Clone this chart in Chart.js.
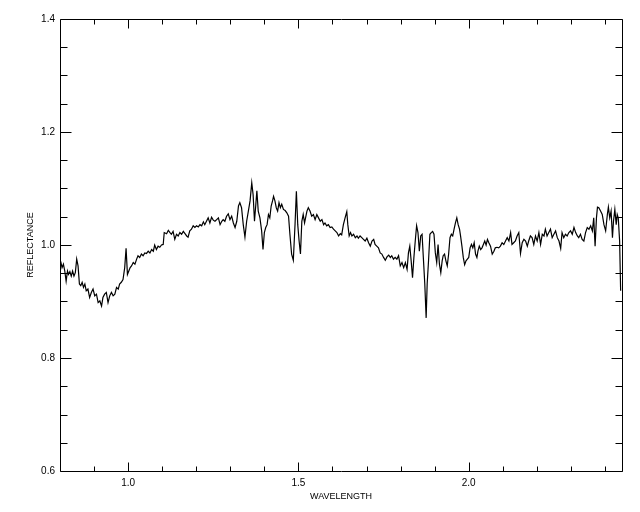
<!DOCTYPE html>
<html>
<head>
<meta charset="utf-8">
<script src="https://cdn.jsdelivr.net/npm/chart.js@4.4.1/dist/chart.umd.min.js"></script>
<style>
  body { margin: 0; background: #fff; }
  #wrap { width: 640px; height: 512px; }
</style>
</head>
<body>
<div id="wrap"><canvas id="spectrum" width="640" height="512"></canvas></div>
<script>
// spectrum
const wavelength = [
  0.802,0.806,0.810,0.814,0.818,0.822,0.825,0.829,0.833,0.837,0.841,0.845,0.849,0.853,0.857,0.861,0.865,0.869,0.873,
  0.877,0.882,0.887,0.892,0.897,0.902,0.907,0.912,0.917,0.922,0.926,0.931,0.936,0.941,0.946,0.951,0.956,0.961,0.966,0.971,0.975,0.980,0.985,0.990,
  0.994,0.998,1.002,1.006,
  1.010,1.015,1.020,1.025,1.029,1.034,1.039,1.044,1.049,1.054,1.059,1.064,1.069,1.074,1.078,1.083,1.088,1.093,1.098,1.103,
  1.106,
  1.113,1.118,1.123,1.127,1.132,1.137,1.142,1.147,1.152,1.157,1.162,1.167,1.172,1.176,1.181,1.186,1.191,1.196,1.201,1.206,
  1.211,1.216,1.221,1.225,1.230,1.235,1.240,1.245,1.250,1.255,1.260,1.265,1.270,1.275,1.279,1.284,1.289,1.294,1.299,1.304,
  1.309,1.314,1.319,1.324,1.328,1.333,1.338,1.343,1.348,1.353,1.358,1.363,
  1.367,1.371,1.375,1.378,
  1.382,1.387,1.392,
  1.396,1.400,1.404,1.408,1.412,1.416,1.420,1.424,1.427,1.431,1.435,1.439,1.443,1.447,1.451,
  1.456,1.461,1.466,1.471,1.475,1.480,1.485,
  1.490,1.494,1.498,1.502,1.506,1.510,1.514,1.518,1.522,1.525,
  1.529,1.534,1.539,1.544,1.549,1.554,1.559,1.564,1.569,1.574,1.578,1.583,1.588,1.593,1.598,1.603,1.608,1.613,
  1.618,1.623,1.627,1.632,1.637,1.642,1.645,1.649,1.653,1.657,
  1.662,1.667,1.672,1.676,1.681,1.686,1.691,1.696,1.701,1.706,1.711,1.716,1.721,1.725,1.730,1.735,1.740,1.745,1.750,1.755,
  1.760,1.765,1.770,1.774,1.779,1.784,1.789,1.794,1.799,1.804,1.809,1.814,1.819,
  1.823,1.827,1.831,1.835,1.839,1.843,1.847,1.851,1.855,1.859,1.863,1.867,1.871,1.875,1.878,1.882,1.886,1.890,1.894,1.898,
  1.902,1.906,1.910,1.914,1.918,1.922,1.925,1.929,1.933,1.937,1.941,1.945,1.949,1.953,1.957,1.961,1.965,1.969,1.973,1.976,
  1.980,1.984,1.988,1.992,1.996,2.000,2.004,2.008,2.012,2.016,2.020,2.024,2.027,2.031,2.035,2.039,2.043,2.047,2.051,2.055,2.059,
  2.064,2.069,2.074,2.078,2.083,2.088,2.093,2.098,2.103,2.108,2.113,2.118,2.123,2.127,2.132,2.137,2.142,2.147,2.152,2.157,
  2.162,2.167,2.172,2.176,2.181,2.186,2.191,2.196,2.201,2.206,2.211,2.216,2.221,2.225,2.230,2.235,2.240,2.245,2.250,2.255,
  2.260,2.265,2.270,2.274,2.279,2.284,2.289,2.294,2.299,2.304,2.309,2.314,2.319,2.323,2.328,2.333,2.338,2.343,2.348,2.353,
  2.358,2.363,
  2.367,2.371,2.375,2.378,2.382,2.387,2.392,2.397,2.402,2.407,2.410,2.414,2.418,2.422,2.425,2.429,2.433,2.436,2.439,2.443,2.446
];
const reflectance = [
  0.971,0.960,0.966,0.954,0.936,0.954,0.948,0.953,0.945,0.954,0.945,0.951,0.975,0.963,0.931,0.928,0.934,0.925,0.931,
  0.919,0.922,0.907,0.916,0.922,0.910,0.913,0.898,0.901,0.892,0.907,0.913,0.916,0.898,0.910,0.916,0.910,0.913,0.925,0.922,0.931,0.934,0.939,0.960,
  0.994,0.948,0.954,0.960,
  0.963,0.969,0.966,0.975,0.981,0.978,0.984,0.981,0.986,0.985,0.989,0.986,0.992,0.989,1.000,0.992,0.998,0.996,1.000,1.001,
  1.022,
  1.020,1.026,1.022,1.019,1.024,1.010,1.019,1.016,1.022,1.019,1.024,1.020,1.016,1.014,1.025,1.028,1.034,1.031,1.034,1.032,
  1.036,1.034,1.041,1.036,1.042,1.048,1.039,1.049,1.044,1.042,1.045,1.048,1.036,1.042,1.045,1.042,1.051,1.055,1.045,1.051,
  1.039,1.031,1.042,1.069,1.075,1.066,1.036,1.014,1.042,1.060,1.078,1.110,
  1.089,1.042,1.072,1.096,
  1.060,1.048,1.025,
  0.992,1.022,1.031,1.036,1.054,1.048,1.069,1.078,1.086,1.078,1.066,1.060,1.075,1.066,1.072,
  1.063,1.061,1.057,1.051,1.019,0.984,0.973,
  1.036,1.095,1.036,1.007,0.984,1.042,1.054,1.039,1.051,1.060,
  1.066,1.060,1.051,1.054,1.045,1.054,1.048,1.042,1.045,1.036,1.039,1.034,1.036,1.031,1.032,1.028,1.025,1.022,
  1.016,1.020,1.018,1.036,1.048,1.059,1.036,1.016,1.022,1.016,
  1.019,1.013,1.016,1.012,1.016,1.013,1.010,1.007,1.012,1.004,0.998,1.007,1.010,1.001,0.998,0.995,0.986,0.984,0.978,0.973,
  0.979,0.982,0.978,0.981,0.975,0.978,0.975,0.981,0.963,0.969,0.960,0.969,0.957,
  0.986,0.998,0.972,0.942,0.978,1.007,1.034,1.022,0.989,1.016,1.019,0.975,0.931,0.871,0.931,0.972,1.019,1.022,1.024,1.019,
  0.986,0.969,1.001,0.966,0.951,0.972,0.981,0.984,0.972,0.963,0.984,1.013,1.019,1.016,1.028,1.039,1.048,1.036,1.028,1.016,
  0.998,0.978,0.965,0.972,0.975,0.978,0.995,1.001,0.995,1.004,0.984,0.978,0.989,0.998,0.992,0.995,1.001,1.007,1.000,1.010,1.004,
  0.998,0.984,0.989,0.995,0.996,0.995,0.998,1.004,1.001,1.007,1.013,1.007,1.022,1.001,1.004,1.007,1.016,1.022,0.985,1.004,
  1.010,1.007,0.998,1.007,1.016,1.013,1.001,1.016,1.007,1.022,1.001,1.019,1.016,1.028,1.016,1.022,1.028,1.013,1.019,1.025,
  1.013,1.007,0.994,1.022,1.013,1.019,1.016,1.022,1.025,1.019,1.031,1.022,1.016,1.013,1.019,1.010,1.007,1.022,1.031,1.028,
  1.034,1.025,
  1.048,0.998,1.048,1.067,1.066,1.060,1.054,1.036,1.025,1.054,1.067,1.048,1.060,1.013,1.042,1.063,1.036,1.054,1.048,1.007,0.919
];

const xMajor = [1.0, 1.5, 2.0];
const xMinor = [0.9, 1.1, 1.2, 1.3, 1.4, 1.6, 1.7, 1.8, 1.9, 2.1, 2.2, 2.3, 2.4];
const yMajor = [0.6, 0.8, 1.0, 1.2, 1.4];
const yMinor = [0.65, 0.7, 0.75, 0.85, 0.9, 0.95, 1.05, 1.1, 1.15, 1.25, 1.3, 1.35];

Chart.defaults.font.family = '"Liberation Sans", Arial, sans-serif';
Chart.defaults.font.size = 10;
Chart.defaults.color = '#000';

// IDL style box with inward ticks on all four sides
const frame = {
  id: 'frame',
  afterDraw(chart) {
    const { ctx, chartArea: a, scales: { x, y } } = chart;
    const L = Math.round(a.left) + 0.5, R = Math.round(a.right) + 0.5;
    const T = Math.round(a.top) + 0.5, B = Math.round(a.bottom) + 0.5;
    ctx.save();
    ctx.strokeStyle = '#000';
    ctx.lineWidth = 1;
    ctx.beginPath();
    ctx.rect(L, T, R - L, B - T);
    const xt = (vals, len) => vals.forEach(v => {
      const p = Math.round(x.getPixelForValue(v)) + 0.5;
      ctx.moveTo(p, B); ctx.lineTo(p, B - len);
      ctx.moveTo(p, T); ctx.lineTo(p, T + len);
    });
    const yt = (vals, len) => vals.forEach(v => {
      const p = Math.round(y.getPixelForValue(v)) + 0.5;
      ctx.moveTo(L, p); ctx.lineTo(L + len, p);
      ctx.moveTo(R, p); ctx.lineTo(R - len, p);
    });
    xt(xMajor, 9); xt(xMinor, 5);
    yt(yMajor, 11); yt(yMinor, 7);
    ctx.stroke();
    ctx.restore();
  }
};

new Chart(document.getElementById('spectrum'), {
  type: 'line',
  data: {
    datasets: [{
      data: wavelength.map((w, i) => ({ x: w, y: reflectance[i] })),
      borderColor: '#000',
      borderWidth: 1.2,
      pointRadius: 0,
      tension: 0,
    }],
  },
  options: {
    responsive: false,
    animation: false,
    layout: { padding: { top: 19, right: 18, left: 0, bottom: 0 } },
    plugins: { legend: { display: false }, tooltip: { enabled: false } },
    scales: {
      x: {
        type: 'linear',
        min: 0.8,
        max: 2.45,
        grid: { display: false, drawTicks: false },
        border: { display: false },
        afterBuildTicks: s => { s.ticks = xMajor.map(v => ({ value: v })); },
        afterFit: s => { s.height = 41; },
        ticks: { padding: 6, maxRotation: 0, callback: v => v.toFixed(1) },
        title: { display: true, text: 'WAVELENGTH', font: { size: 9 }, padding: { top: 0, bottom: 10 } },
      },
      y: {
        min: 0.6,
        max: 1.4,
        grid: { display: false, drawTicks: false },
        border: { display: false },
        afterBuildTicks: s => { s.ticks = yMajor.map(v => ({ value: v })); },
        afterFit: s => { s.width = 60; },
        ticks: { padding: 5, callback: v => v.toFixed(1) },
        title: { display: true, text: 'REFLECTANCE', font: { size: 9 }, padding: { top: 25, bottom: 0 } },
      },
    },
  },
  plugins: [frame],
});
</script>
</body>
</html>
